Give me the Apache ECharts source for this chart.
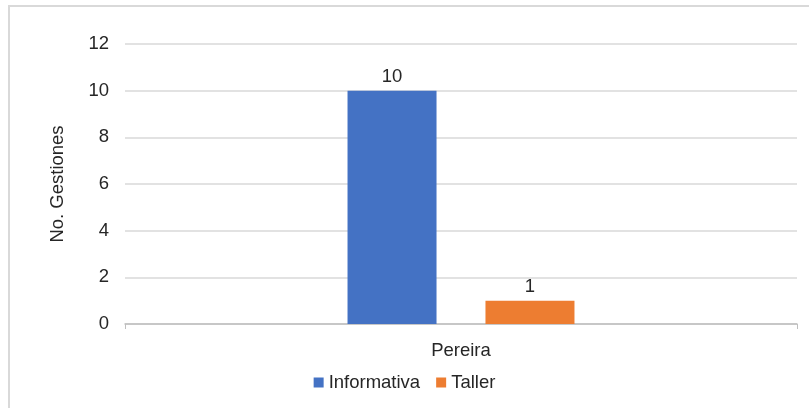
<!DOCTYPE html>
<html>
<head>
<meta charset="utf-8">
<script src="https://cdn.jsdelivr.net/npm/echarts@6/dist/echarts.min.js"></script>
<style>
  html, body { margin: 0; padding: 0; background: #fff; }
  #main { width: 809px; height: 408px; }
</style>
</head>
<body>
<div id="main"></div>
<script>
// datos
var categorias = ['Pereira'];
var informativa = [10];
var taller = [1];
var yTicks = [0, 2, 4, 6, 8, 10, 12];

window.onload = function(){
    var chart = echarts.init(document.getElementById('main'));
    var textColor = '#262626';
    var fs = 18.5;
    var option = {
        animation: false,
        textStyle: { fontFamily: 'Liberation Sans, Arial, sans-serif' },
        graphic: [{
            type: 'rect',
            shape: { x: 9, y: 6, width: 810, height: 410 },
            style: { fill: 'none', stroke: '#d9d9d9', lineWidth: 2 },
            silent: true
        }],
        grid: { left: 125, right: 12, top: 44, bottom: 84 },
        legend: {
            bottom: 11,
            left: 'center',
            itemWidth: 10,
            itemHeight: 10,
            itemGap: 16,
            icon: 'rect',
            textStyle: { color: textColor, fontSize: fs },
            data: ['Informativa', 'Taller']
        },
        xAxis: {
            type: 'category',
            data: categorias,
            axisLine: { lineStyle: { color: '#bfbfbf', width: 1.5 } },
            axisTick: { show: true, length: 5, lineStyle: { color: '#bfbfbf' } },
            axisLabel: { color: textColor, fontSize: fs, margin: 17 }
        },
        yAxis: {
            type: 'value',
            min: yTicks[0],
            max: yTicks[yTicks.length - 1],
            interval: 2,
            name: 'No. Gestiones',
            nameLocation: 'middle',
            nameGap: 58,
            nameTextStyle: { color: textColor, fontSize: fs },
            axisLine: { show: false },
            axisTick: { show: false },
            axisLabel: { color: textColor, fontSize: fs, margin: 16 },
            splitLine: { lineStyle: { color: '#d9d9d9', width: 1.5 } }
        },
        series: [
            {
                name: 'Informativa',
                type: 'bar',
                data: informativa,
                barWidth: 89,
                barGap: '55%',
                itemStyle: { color: '#4472C4' },
                label: { show: true, position: 'top', color: textColor, fontSize: fs, distance: 4 }
            },
            {
                name: 'Taller',
                type: 'bar',
                data: taller,
                barWidth: 89,
                itemStyle: { color: '#ED7D31' },
                label: { show: true, position: 'top', color: textColor, fontSize: fs, distance: 4 }
            }
        ]
    };
    chart.setOption(option);
};
</script>
</body>
</html>
